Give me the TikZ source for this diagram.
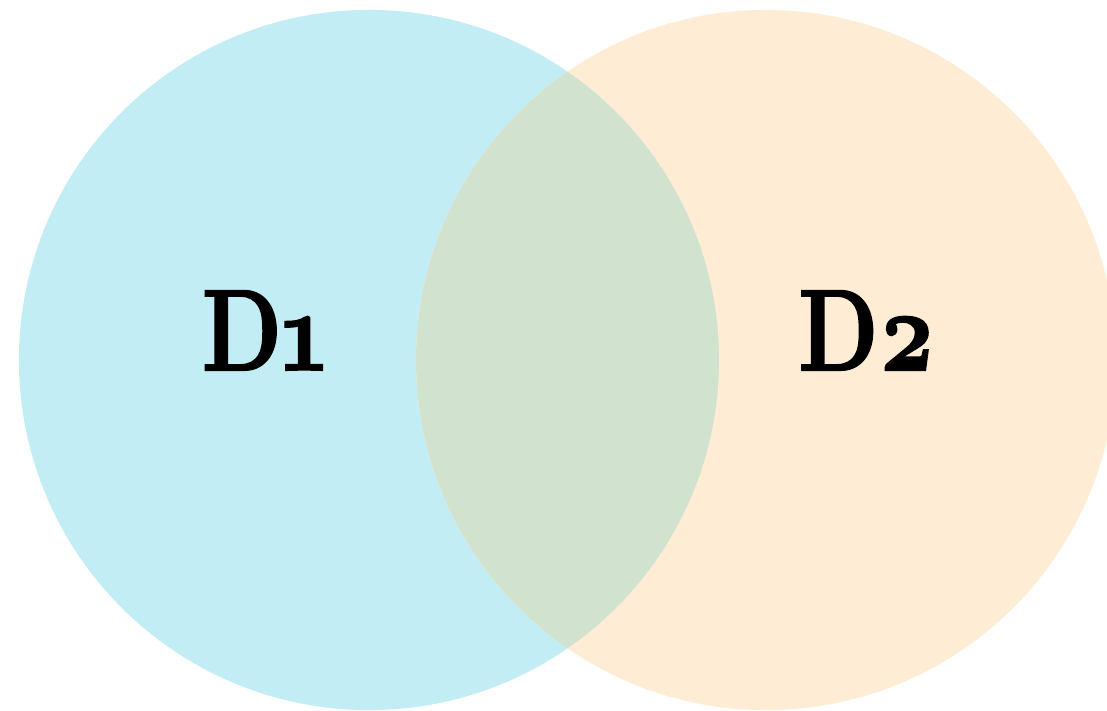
\documentclass[tikz,border=0pt]{standalone}
\usepackage{fontspec}
\setmainfont{Latin Modern Roman}[Numbers=OldStyle]
\usepackage{tikz}
\usetikzlibrary{positioning}
\definecolor{setafill}{RGB}{195,237,245}
\definecolor{setbfill}{RGB}{255,236,213}
\definecolor{bothfill}{RGB}{209,226,207}

\begin{document}
\begin{tikzpicture}[x=0.025cm,y=0.025cm,
   setc/.style={circle,minimum size=17.5cm,inner sep=0pt,draw=none},
   lbl/.style={font=\fontsize{82}{90}\selectfont\bfseries\addfontfeatures{FakeStretch=0.8,FakeBold=1.8},
               anchor=base,inner sep=0pt}]
\useasboundingbox (0,0) rectangle (1107,711);

% two sets
\node[setc,fill=setafill] (d1) at (369,351) {};
\node[setc,fill=setbfill] (d2) at (766,351) {};

% overlap
\begin{scope}
  \clip (d1.center) circle[radius=350];
  \fill[bothfill] (d2.center) circle[radius=350];
\end{scope}

% labels
\node[lbl] (l1) at (264,341) {D1};
\node[lbl] (l2) at (867,341) {D2};
\end{tikzpicture}
\end{document}
